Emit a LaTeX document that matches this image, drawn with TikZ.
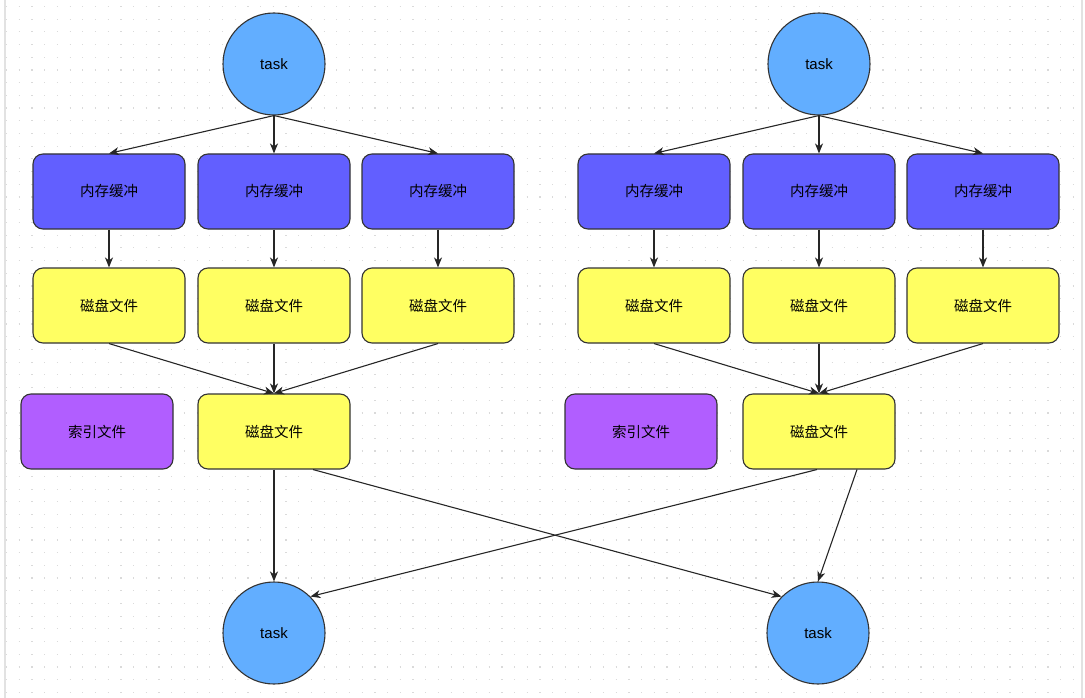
\documentclass[tikz,border=0pt]{standalone}
\usepackage{fontspec}
\setmainfont{Liberation Sans}
\newfontfamily\cjk{Noto Sans CJK SC}
\usetikzlibrary{arrows.meta}
\definecolor{taskblue}{HTML}{62AEFF}
\definecolor{memblue}{HTML}{625FFF}
\definecolor{diskyellow}{HTML}{FFFF62}
\definecolor{idxpurple}{HTML}{B15EFF}
\definecolor{dotgray}{HTML}{DADADA}
\definecolor{edgegray}{HTML}{E2E2E2}

\begin{document}
\begin{tikzpicture}[x=1pt,y=-1pt,font=\fontsize{15}{17}\selectfont,
 e/.style={draw=black!80,line width=1.1pt,rounded corners=10pt,minimum width=152pt,minimum height=75pt,
   font=\fontsize{14.5}{17}\selectfont\cjk},
 mem/.style={e,fill=memblue}, disk/.style={e,fill=diskyellow}, idx/.style={e,fill=idxpurple},
 task/.style={circle,draw=black!80,line width=1.1pt,fill=taskblue,minimum size=102pt},
 arr/.style={draw=black!85,line width=1.1pt,-{Stealth[length=10pt,width=8pt,inset=3pt]}}]
\useasboundingbox (0,0) rectangle (1085,698);
% canvas grid
\foreach \j in {0,...,54}
  \draw[dotgray,line width=1.2pt,dash pattern=on 1.2pt off 11.5pt] (6,{6.5+12.7*\j}) -- (1080,{6.5+12.7*\j});
\draw[edgegray,line width=1.5pt] (5,0) -- (5,698);
\draw[edgegray,line width=1.5pt] (1082,0) -- (1082,698);

% left group
\node[task] (t1) at (274,64) {task};
\node[mem] (m1) at (109,191.5) {内存缓冲};
\node[mem] (m2) at (274,191.5) {内存缓冲};
\node[mem] (m3) at (438,191.5) {内存缓冲};
\node[disk] (d1) at (109,305.5) {磁盘文件};
\node[disk] (d2) at (274,305.5) {磁盘文件};
\node[disk] (d3) at (438,305.5) {磁盘文件};
\node[idx] (i1) at (97,431.5) {索引文件};
\node[disk] (s1) at (274,431.5) {磁盘文件};
\node[task] (b1) at (274,633) {task};

% right group
\node[task] (t2) at (819,64) {task};
\node[mem] (m4) at (654,191.5) {内存缓冲};
\node[mem] (m5) at (819,191.5) {内存缓冲};
\node[mem] (m6) at (983,191.5) {内存缓冲};
\node[disk] (d4) at (654,305.5) {磁盘文件};
\node[disk] (d5) at (819,305.5) {磁盘文件};
\node[disk] (d6) at (983,305.5) {磁盘文件};
\node[idx] (i2) at (641,431.5) {索引文件};
\node[disk] (s2) at (819,431.5) {磁盘文件};
\node[task] (b2) at (818,633) {task};

% connectors
\foreach \m in {m1,m2,m3} \draw[arr] (t1.south) -- (\m.north);
\foreach \m in {m4,m5,m6} \draw[arr] (t2.south) -- (\m.north);
\foreach \a/\b in {m1/d1,m2/d2,m3/d3,m4/d4,m5/d5,m6/d6} \draw[arr] (\a.south) -- (\b.north);
\foreach \d in {d1,d2,d3} \draw[arr] (\d.south) -- (s1.north);
\foreach \d in {d4,d5,d6} \draw[arr] (\d.south) -- (s2.north);
\draw[arr] (s1.south) -- (b1.north);
\draw[arr] ([xshift=39pt]s1.south) -- (b2.135);
\draw[arr] ([xshift=-2pt]s2.south) -- (b1.45);
\draw[arr] ([xshift=38pt]s2.south) -- (b2.north);
\end{tikzpicture}
\end{document}
